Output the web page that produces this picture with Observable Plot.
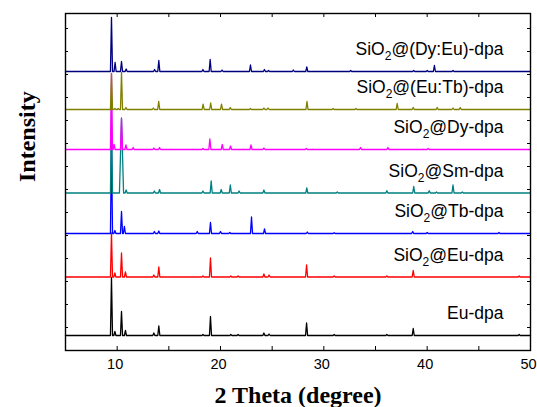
<!DOCTYPE html>
<html><head><meta charset="utf-8">
<script src="https://cdn.jsdelivr.net/npm/d3@7"></script>
<script src="https://cdn.jsdelivr.net/npm/@observablehq/plot@0.6"></script>
<style>body{margin:0;background:#fff}</style>
</head><body><div id="chart"></div>
<script>
// Series (bottom to top)
const seriesNames = ["Eu-dpa","SiO2@Eu-dpa","SiO2@Tb-dpa","SiO2@Sm-dpa","SiO2@Dy-dpa","SiO2@(Eu:Tb)-dpa","SiO2@(Dy:Eu)-dpa"];
const seriesColors = ["#000000","#ff0000","#0000ff","#008080","#ff00ff","#808000","#00007f"];
// vertical stacking offset of each pattern (a.u.)
const seriesOffsets = [15, 73.5, 117, 157.5, 201, 241, 279];

// peaks: [2θ, intensity (a.u.), optional half-width]
const peaksEuDpa = [[9.45,58],[9.78,4],[10.42,24],[10.8,5],[13.55,2.5],[14.03,9.5],[18.3,1],[19.03,19],[21.0,1],[21.7,1],[24.2,2.5],[24.7,1.5],[28.33,12.5],[31.0,1],[36.1,1],[38.65,7],[48.9,1]];
const peaksEu = [[9.45,44],[9.78,4],[10.42,24],[10.8,5],[13.55,2],[14.03,10],[18.3,1],[19.03,19],[21.0,1],[21.7,1],[24.2,3],[24.7,2],[28.33,12],[31.0,1],[36.1,1],[38.65,6.5],[48.9,1]];
const peaksTb = [[9.45,92],[9.78,3],[10.42,22],[10.7,7],[13.6,2],[14.03,2.5],[17.75,2],[19.03,11],[20.0,2],[20.9,1],[23.0,16.5],[24.26,4.5],[28.4,1.5],[31.0,0.8],[38.6,2],[40.0,1],[46.95,1]];
const peaksSm = [[9.45,82],[10.42,75,0.2],[10.87,3],[13.6,2],[14.1,3.5],[18.3,2],[19.1,12],[20.07,3.5],[20.95,8],[21.8,2],[24.2,3],[28.35,5],[31.3,1],[36.1,2.3],[38.7,6.5],[40.2,2.3],[40.9,1],[42.5,8],[43.4,1]];
const peaksDy = [[9.45,76],[9.7,5],[10.42,31],[10.85,4.5],[11.55,2],[13.55,1.5],[14.1,2],[18.3,1],[18.97,10.5],[20.17,5],[20.97,3.5],[22.95,4.7],[24.2,1.5],[28.3,1],[33.55,2],[36.2,2],[40.1,1]];
const peaksEuTb = [[9.45,36],[9.78,1],[10.1,1],[10.42,37],[10.85,2],[13.5,1.5],[14.02,8],[18.32,5.3],[19.05,6.5],[20.1,5.3],[20.95,2],[22.9,1],[24.2,1.5],[24.6,1.5],[28.37,8],[30.9,1],[33.1,1],[37.1,6],[38.65,2],[40.97,2],[42.5,1.5],[43.2,2]];
const peaksDyEu = [[9.45,54],[9.8,9],[10.42,10],[10.87,2.5],[13.62,2],[14.03,11],[18.3,2],[19.0,12],[20.15,1.5],[22.9,6.5],[24.25,2],[24.65,1],[27.05,1.5],[28.35,4.5],[32.6,1],[38.7,1],[40.0,1],[40.7,6],[42.5,1]];
const seriesPeaks = [peaksEuDpa, peaksEu, peaksTb, peaksSm, peaksDy, peaksEuTb, peaksDyEu];

const xRange = [5, 50];
const xLabelTicks = [10, 20, 30, 40, 50];
const xMinorTicks = [5, 10, 15, 20, 25, 30, 35, 40, 45, 50];
const yTicks = [0, 23, 46, 69, 92, 115, 138, 161, 184, 207, 230, 253, 276, 299, 322];

// build line table
const pts = [];
seriesNames.forEach((name, i) => {
  const off = seriesOffsets[i];
  pts.push({series: name, x: xRange[0], y: off});
  for (const [px, h, w0] of seriesPeaks[i]) {
    const w = w0 || 0.1;
    pts.push({series: name, x: px - w, y: off});
    pts.push({series: name, x: px, y: off + h});
    pts.push({series: name, x: px + w, y: off});
  }
  pts.push({series: name, x: xRange[1], y: off});
});
const labels = seriesNames.map((name, i) => ({series: name, y: seriesOffsets[i]}));

const W = 537, H = 407, ML = 65, MR = 7, MT = 13, MB = 57;
const FW = W - ML - MR, FH = H - MT - MB;
const plot = Plot.plot({
  width: W, height: H,
  marginLeft: ML, marginRight: MR, marginTop: MT, marginBottom: MB,
  x: {domain: xRange},
  y: {domain: [0, 337], axis: null},
  color: {domain: seriesNames, range: seriesColors},
  style: {fontFamily: "'Liberation Sans', Arial, sans-serif", fontSize: "15px", color: "#000", background: "#fff"},
  marks: [
    Plot.axisX(xLabelTicks, {anchor: "bottom", tickSize: 0, tickPadding: 8, fontSize: 14.5, dx: -2, label: null}),
    // inward ticks
    Plot.ruleX(xMinorTicks, {insetTop: FH - 4, stroke: "#000"}),
    Plot.ruleX(xMinorTicks, {insetBottom: FH - 4, stroke: "#000"}),
    Plot.ruleY(yTicks, {insetRight: FW - 3, stroke: "#000"}),
    Plot.ruleY(yTicks, {insetLeft: FW - 3, stroke: "#000"}),
    Plot.line(pts, {x: "x", y: "y", z: "series", stroke: "series", strokeWidth: 1.3}),
    Plot.frame({stroke: "#000", strokeWidth: 1.4}),
    Plot.text(labels, {y: "y", frameAnchor: "right", dx: -27, dy: -22, text: "series", textAnchor: "end", fontSize: 17.5, fill: "#000"}),
    Plot.text(["Intensity"], {frameAnchor: "left", dx: -38, rotate: -90, text: d => d, fontFamily: "'Liberation Serif', 'Times New Roman', serif", fontWeight: "bold", fontSize: 24, fill: "#000"}),
    Plot.text(["2 Theta (degree)"], {frameAnchor: "bottom", dy: 45, lineAnchor: "middle", text: d => d, fontFamily: "'Liberation Serif', 'Times New Roman', serif", fontWeight: "bold", fontSize: 24, fill: "#000"})
  ]
});
// subscript the "2" of SiO2
plot.querySelectorAll("text").forEach(t => {
  const s = t.textContent;
  if (s.startsWith("SiO2")) {
    const ns = "http://www.w3.org/2000/svg";
    t.textContent = "";
    const a = document.createElementNS(ns, "tspan"); a.textContent = "SiO";
    const b = document.createElementNS(ns, "tspan"); b.textContent = "2";
    b.setAttribute("dy", "5"); b.setAttribute("font-size", "12");
    const c = document.createElementNS(ns, "tspan"); c.textContent = s.slice(4);
    c.setAttribute("dy", "-5");
    t.append(a, b, c);
  }
});
document.getElementById("chart").append(plot);
</script>
</body></html>
